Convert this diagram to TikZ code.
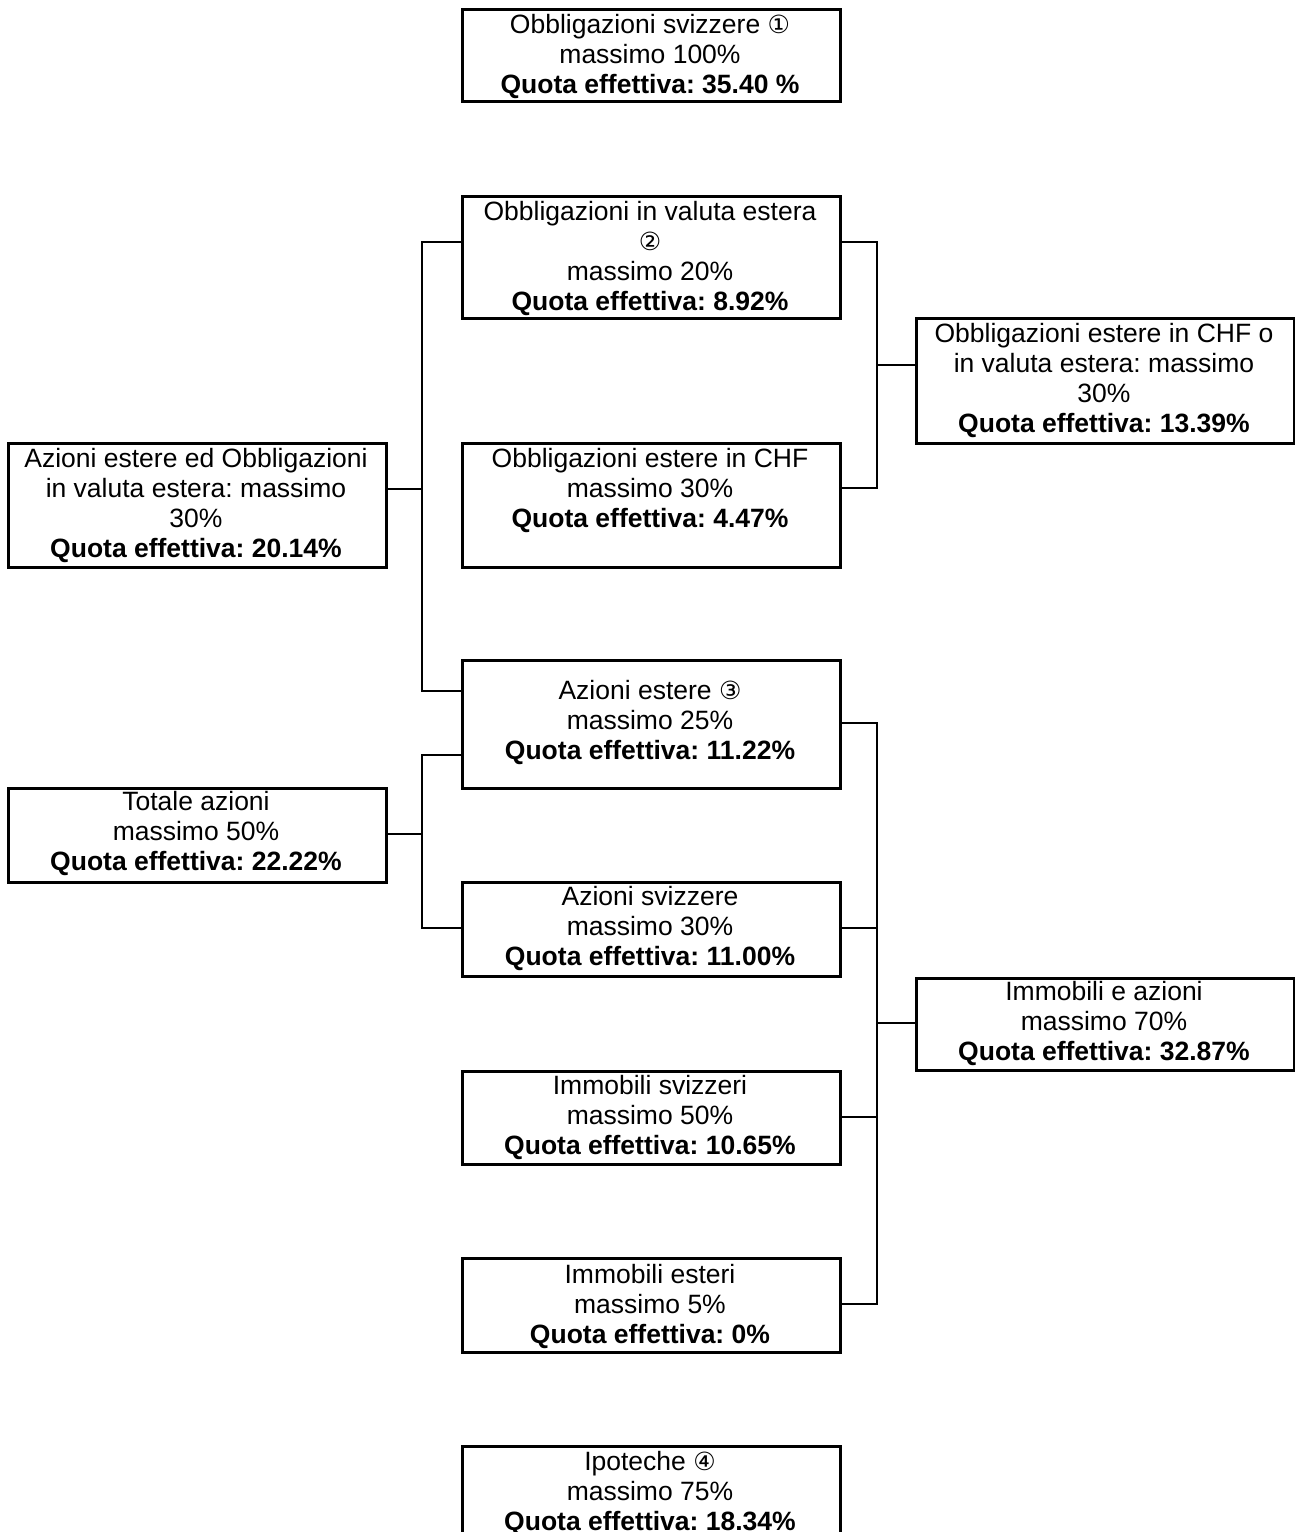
\documentclass[tikz,border=0pt]{standalone}
\usepackage{fontspec}
\setmainfont{Liberation Sans}
\newfontfamily\circfont{DejaVu Sans}
\newcommand{\cnum}[1]{{\circfont\fontsize{25}{30}\selectfont #1}}
\frenchspacing
\tikzset{
  box/.style={draw, line width=2.6pt, rectangle, inner sep=0pt, anchor=north west},
  midbox/.style={box, minimum width=378pt},
  txt/.style={anchor=north, inner sep=0pt, align=center, font=\fontsize{26.5}{30}\selectfont\frenchspacing},
  conn/.style={line width=2.6pt},
}
\begin{document}
\begin{tikzpicture}[x=1pt,y=-1pt]
\useasboundingbox (0,0) rectangle (1295,1532);
\clip (0,0) rectangle (1295,1532);

% boxes
\node[midbox, minimum height=92pt]  (top) at (461,8) {};
\node[midbox, minimum height=122pt] (ove) at (461,195) {};
\node[midbox, minimum height=125pt] (oec) at (915,317) {};
\node[midbox, minimum height=124pt] (aeo) at (7,442) {};
\node[midbox, minimum height=124pt] (ochf) at (461,442) {};
\node[midbox, minimum height=128pt] (aes) at (461,659) {};
\node[midbox, minimum height=94pt]  (tot) at (7,787) {};
\node[midbox, minimum height=94pt]  (asv) at (461,881) {};
\node[midbox, minimum height=92pt]  (ima) at (915,977) {};
\node[midbox, minimum height=93pt]  (isv) at (461,1070) {};
\node[midbox, minimum height=94pt]  (ies) at (461,1257) {};
\node[midbox, minimum height=120pt] (ipo) at (461,1445) {};

% texts
\node[txt] (topt) at (650,12) {\strut Obbligazioni svizzere \cnum{①}\\massimo 100\%\\\textbf{Quota effettiva: 35.40 \%}};
\node[txt] (ovet) at (650,199) {\strut Obbligazioni in valuta estera\\\cnum{②}\\massimo 20\%\\\textbf{Quota effettiva: 8.92\%}};
\node[txt] (oect) at (1104,321) {\strut Obbligazioni estere in CHF o\\in valuta estera: massimo\\30\%\\\textbf{Quota effettiva: 13.39\%}};
\node[txt] (aeot) at (196,446) {\strut Azioni estere ed Obbligazioni\\in valuta estera: massimo\\30\%\\\textbf{Quota effettiva: 20.14\%}};
\node[txt] (ochft) at (650,446) {\strut Obbligazioni estere in CHF\\massimo 30\%\\\textbf{Quota effettiva: 4.47\%}};
\node[txt] (aest) at (650,678) {\strut Azioni estere \cnum{③}\\massimo 25\%\\\textbf{Quota effettiva: 11.22\%}};
\node[txt] (tott) at (196,789) {\strut Totale azioni\\massimo 50\%\\\textbf{Quota effettiva: 22.22\%}};
\node[txt] (asvt) at (650,884) {\strut Azioni svizzere\\massimo 30\%\\\textbf{Quota effettiva: 11.00\%}};
\node[txt] (imat) at (1104,979) {\strut Immobili e azioni\\massimo 70\%\\\textbf{Quota effettiva: 32.87\%}};
\node[txt] (isvt) at (650,1073) {\strut Immobili svizzeri\\massimo 50\%\\\textbf{Quota effettiva: 10.65\%}};
\node[txt] (iest) at (650,1262) {\strut Immobili esteri\\massimo 5\%\\\textbf{Quota effettiva: 0\%}};
\node[txt] (ipot) at (650,1449) {\strut Ipoteche \cnum{④}\\massimo 75\%\\\textbf{Quota effettiva: 18.34\%}};

% junction coordinates
\coordinate (la1) at (422,242);
\coordinate (la2) at (422,691);
\coordinate (lam) at (422,489);
\coordinate (ra1) at (877,242);
\coordinate (ra2) at (877,488);
\coordinate (ram) at (877,365);
\coordinate (lt1) at (422,755);
\coordinate (lt2) at (422,928);
\coordinate (ltm) at (422,834);
\coordinate (ri1) at (877,723);
\coordinate (ri2) at (877,928);
\coordinate (ri3) at (877,1117);
\coordinate (ri4) at (877,1304);
\coordinate (rim) at (877,1023);

% connectors
\draw[conn] (ove.west |- la1) -- (la1) -- (la2) -- (aes.west |- la2);
\draw[conn] (aeo.east |- lam) -- (lam);
\draw[conn] (ove.east |- ra1) -- (ra1) -- (ra2) -- (ochf.east |- ra2);
\draw[conn] (ram) -- (oec.west |- ram);
\draw[conn] (aes.west |- lt1) -- (lt1) -- (lt2) -- (asv.west |- lt2);
\draw[conn] (tot.east |- ltm) -- (ltm);
\draw[conn] (aes.east |- ri1) -- (ri1) -- (ri4) -- (ies.east |- ri4);
\draw[conn] (asv.east |- ri2) -- (ri2);
\draw[conn] (isv.east |- ri3) -- (ri3);
\draw[conn] (rim) -- (ima.west |- rim);
\end{tikzpicture}
\end{document}
